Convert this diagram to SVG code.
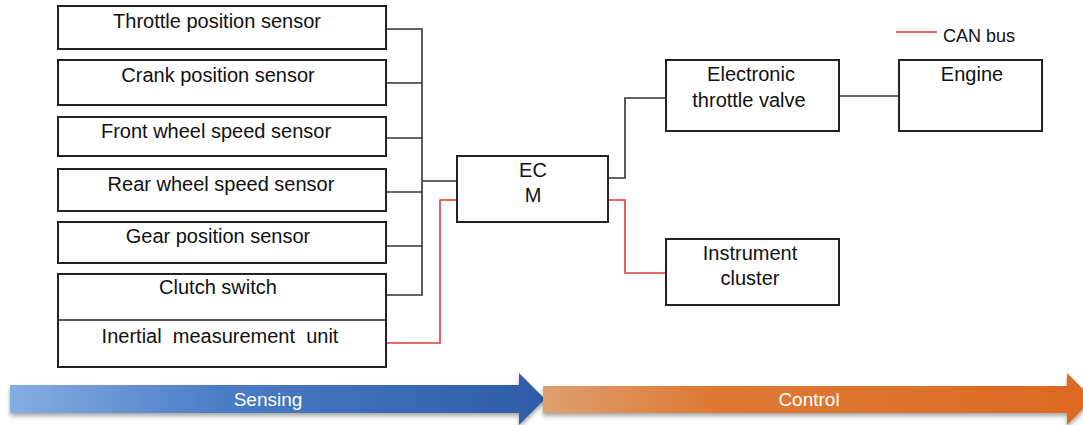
<svg xmlns="http://www.w3.org/2000/svg" width="1083" height="425" viewBox="0 0 1083 425">
<defs>
<style>
.box{fill:#fff;stroke:#222;stroke-width:2}
.t{font-family:"Liberation Sans",Arial,sans-serif;font-size:20px;fill:#111;text-anchor:middle}
.w{font-family:"Liberation Sans",Arial,sans-serif;font-size:19px;fill:#fff;text-anchor:middle}
.bk{fill:none;stroke:#333;stroke-width:1.6}
.rd{fill:none;stroke:#e0393a;stroke-width:1.6}
</style>
<linearGradient id="gb" x1="10" y1="0" x2="545" y2="0" gradientUnits="userSpaceOnUse">
<stop offset="0" stop-color="#86ade2"/>
<stop offset="0.4" stop-color="#4a7cc6"/>
<stop offset="1" stop-color="#2e5ba6"/>
</linearGradient>
<linearGradient id="go" x1="543" y1="0" x2="1083" y2="0" gradientUnits="userSpaceOnUse">
<stop offset="0" stop-color="#dfa070"/>
<stop offset="0.3" stop-color="#de7a36"/>
<stop offset="1" stop-color="#dc6a22"/>
</linearGradient>
<filter id="sh" x="-5%" y="-30%" width="110%" height="170%">
<feDropShadow dx="0" dy="3" stdDeviation="2" flood-color="#000" flood-opacity="0.35"/>
</filter>
</defs>

<g id="connectors">
<polyline class="bk" points="386,29 422,29 422,295 386,295"/>
<line class="bk" x1="386" y1="83" x2="422" y2="83"/>
<line class="bk" x1="386" y1="138" x2="422" y2="138"/>
<line class="bk" x1="386" y1="192" x2="422" y2="192"/>
<line class="bk" x1="386" y1="246" x2="422" y2="246"/>
<line class="bk" x1="422" y1="181" x2="457" y2="181"/>
<polyline class="rd" points="386,343 440,343 440,200 457,200"/>
<polyline class="bk" points="608,178 625,178 625,98 667,98"/>
<polyline class="rd" points="608,200 625,200 625,273 667,273"/>
<line class="bk" x1="839" y1="96" x2="899" y2="96"/>
</g>

<g id="legend">
<line class="rd" x1="896" y1="32" x2="937" y2="32"/>
<text x="943" y="42" font-family="Liberation Sans,Arial,sans-serif" font-size="18" fill="#111">CAN bus</text>
</g>

<g id="throttle-position-sensor"><rect class="box" x="58" y="6" width="328" height="43"/><text class="t" x="217" y="28">Throttle position sensor</text></g>
<g id="crank-position-sensor"><rect class="box" x="58" y="60" width="328" height="45"/><text class="t" x="218" y="82">Crank position sensor</text></g>
<g id="front-wheel-speed-sensor"><rect class="box" x="58" y="117" width="328" height="39"/><text class="t" x="216" y="138">Front wheel speed sensor</text></g>
<g id="rear-wheel-speed-sensor"><rect class="box" x="58" y="169" width="328" height="42"/><text class="t" x="221" y="191">Rear wheel speed sensor</text></g>
<g id="gear-position-sensor"><rect class="box" x="58" y="222" width="328" height="41"/><text class="t" x="218" y="243">Gear position sensor</text></g>
<g id="clutch-imu">
<rect class="box" x="58" y="274" width="328" height="93"/>
<line x1="58" y1="320" x2="386" y2="320" stroke="#222" stroke-width="1.5"/>
<text class="t" x="218" y="294">Clutch switch</text>
<text class="t" x="220" y="343" xml:space="preserve" style="white-space:pre">Inertial  measurement  unit</text>
</g>

<g id="ecm"><rect class="box" x="457" y="156" width="151" height="66"/><text class="t" x="533" y="177">EC</text><text class="t" x="533" y="202">M</text></g>
<g id="electronic-throttle-valve"><rect class="box" x="666" y="60" width="173" height="71"/><text class="t" x="751" y="81">Electronic</text><text class="t" x="749" y="107">throttle valve</text></g>
<g id="engine"><rect class="box" x="899" y="60" width="143" height="71"/><text class="t" x="972" y="81">Engine</text></g>
<g id="instrument-cluster"><rect class="box" x="666" y="239" width="173" height="66"/><text class="t" x="750" y="260">Instrument</text><text class="t" x="750" y="285">cluster</text></g>

<g id="sensing-arrow">
<polygon points="10,385 519,385 519,373 545,399 519,425 519,413 10,413" fill="url(#gb)" filter="url(#sh)"/>
<text class="w" x="268" y="406">Sensing</text>
</g>
<g id="control-arrow">
<polygon points="543,386 1067,386 1067,373 1093,399 1067,425 1067,413 543,413" fill="url(#go)" filter="url(#sh)"/>
<text class="w" x="809" y="406">Control</text>
</g>
</svg>
